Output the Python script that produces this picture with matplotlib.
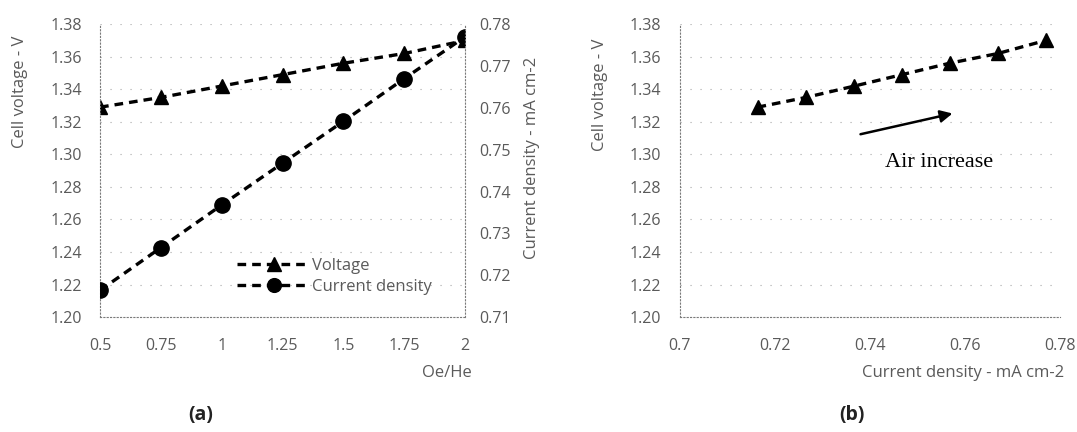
"""Cell voltage / current density vs Oe/He and vs each other."""
import matplotlib
matplotlib.use("Agg")
import matplotlib.pyplot as plt

# data
oe_he = [0.5, 0.75, 1.0, 1.25, 1.5, 1.75, 2.0]
voltage = [1.329, 1.335, 1.342, 1.349, 1.356, 1.362, 1.370]
current_density = [0.7164, 0.7266, 0.7368, 0.7468, 0.7568, 0.7670, 0.7770]

x_ticks_a = [0.5, 0.75, 1, 1.25, 1.5, 1.75, 2]
x_tick_labels_a = ["0.5", "0.75", "1", "1.25", "1.5", "1.75", "2"]
v_ticks = [1.20, 1.22, 1.24, 1.26, 1.28, 1.30, 1.32, 1.34, 1.36, 1.38]
cd_ticks = [0.71, 0.72, 0.73, 0.74, 0.75, 0.76, 0.77, 0.78]
x_ticks_b = [0.7, 0.72, 0.74, 0.76, 0.78]

plt.rcParams["font.family"] = ["Open Sans", "DejaVu Sans"]
TICK_COLOR = "#5a5a5a"
TICK_SIZE = 11.5
LABEL_SIZE = 12
GRID = dict(color="#a8a8a8", linestyle=(0, (1, 8)), linewidth=0.8)
DASH = (2.6, 1.8)


def style_axis(ax):
    ax.tick_params(length=0, labelsize=TICK_SIZE, colors=TICK_COLOR)
    ax.tick_params(axis="y", pad=13)
    ax.tick_params(axis="x", pad=15)
    for side in ["top", "right"]:
        ax.spines[side].set_visible(False)
    for side in ["left", "bottom"]:
        ax.spines[side].set_color("#7a7a7a")
        ax.spines[side].set_linestyle((0, (1, 2)))
        ax.spines[side].set_linewidth(0.8)
    ax.yaxis.grid(True, **GRID)
    ax.set_axisbelow(True)


fig = plt.figure(figsize=(10.77, 4.32), dpi=100)

# ---- (a)
ax1 = fig.add_axes([0.0929, 0.266, 0.339, 0.678])
style_axis(ax1)
ax1.plot(oe_he, voltage, color="black", linestyle="--", dashes=DASH, linewidth=2.4,
         marker="^", markersize=10.5, label="Voltage")
ax1.set_xlim(0.5, 2.0)
ax1.set_ylim(1.20, 1.38)
ax1.set_xticks(x_ticks_a)
ax1.set_xticklabels(x_tick_labels_a)
ax1.set_yticks(v_ticks)
ax1.set_yticklabels([f"{v:.2f}" for v in v_ticks])
ax1.set_ylabel("Cell voltage - V", fontsize=LABEL_SIZE, color=TICK_COLOR, va="center")
ax1.yaxis.set_label_coords(-0.219, 0.768)
ax1.set_xlabel("Oe/He", fontsize=LABEL_SIZE, color=TICK_COLOR, va="center")
ax1.xaxis.set_label_coords(0.951, -0.191)

ax2 = ax1.twinx()
ax2.plot(oe_he, current_density, color="black", linestyle="--", dashes=DASH, linewidth=2.4,
         marker="o", markersize=11, label="Current density")
ax2.set_ylim(0.71, 0.78)
ax2.set_yticks(cd_ticks)
ax2.set_yticklabels([f"{v:.2f}" for v in cd_ticks])
ax2.tick_params(length=0, labelsize=TICK_SIZE, colors=TICK_COLOR, pad=10)
for side in ["top", "left", "bottom"]:
    ax2.spines[side].set_visible(False)
ax2.spines["right"].set_color("#7a7a7a")
ax2.spines["right"].set_linestyle((0, (1, 2)))
ax2.spines["right"].set_linewidth(0.8)
ax2.set_ylabel("Current density - mA cm-2", fontsize=LABEL_SIZE, color=TICK_COLOR,
               va="center", rotation=90)
ax2.yaxis.set_label_coords(1.184, 0.543)

h1, l1 = ax1.get_legend_handles_labels()
h2, l2 = ax2.get_legend_handles_labels()
ax2.legend(h1 + h2, l1 + l2, loc="center left", bbox_to_anchor=(0.375, 0.14),
           frameon=False, fontsize=LABEL_SIZE, labelcolor=TICK_COLOR, handlelength=4.4,
           handletextpad=0.1, borderaxespad=0, borderpad=0, labelspacing=0.3,
           markerscale=0.9)

fig.text(0.186, 0.04, "(a)", fontsize=14, fontweight="bold", ha="center", va="center",
         color="#222222")

# ---- (b)
ax3 = fig.add_axes([0.631, 0.266, 0.353, 0.678])
style_axis(ax3)
ax3.plot(current_density, voltage, color="black", linestyle="--", dashes=DASH, linewidth=2.4,
         marker="^", markersize=10.5)
ax3.set_xlim(0.7, 0.78)
ax3.set_ylim(1.20, 1.38)
ax3.set_xticks(x_ticks_b)
ax3.set_xticklabels(["0.7", "0.72", "0.74", "0.76", "0.78"])
ax3.set_yticks(v_ticks)
ax3.set_yticklabels([f"{v:.2f}" for v in v_ticks])
ax3.set_ylabel("Cell voltage - V", fontsize=LABEL_SIZE, color=TICK_COLOR, va="center")
ax3.yaxis.set_label_coords(-0.21, 0.758)
ax3.set_xlabel("Current density - mA cm-2", fontsize=LABEL_SIZE, color=TICK_COLOR,
               va="center")
ax3.xaxis.set_label_coords(0.745, -0.191)

ax3.annotate("", xy=(0.758, 1.3255), xytext=(0.7375, 1.312),
             arrowprops=dict(arrowstyle="-|>", color="black", lw=1.8, mutation_scale=18))
ax3.text(0.7545, 1.295, "Air increase", fontsize=16, family="Liberation Serif",
         ha="center", va="center", color="black")

fig.text(0.791, 0.04, "(b)", fontsize=14, fontweight="bold", ha="center", va="center",
         color="#222222")

fig.savefig("out.png", dpi=100)
